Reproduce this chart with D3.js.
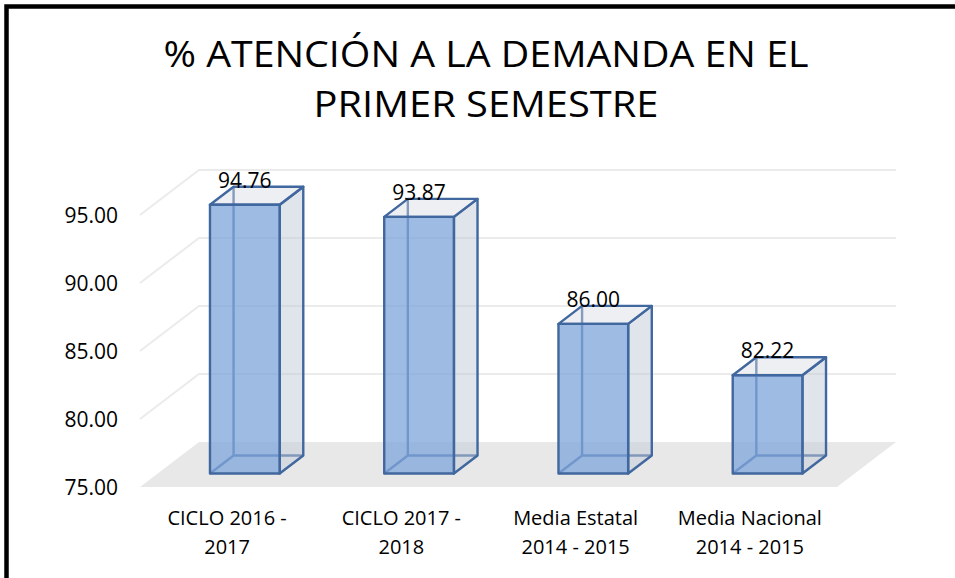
<!DOCTYPE html>
<html>
<head>
<meta charset="utf-8">
<script src="https://cdn.jsdelivr.net/npm/d3@7"></script>
<style>
  html, body { margin: 0; padding: 0; background: #fff; }
  svg { display: block; font-family: "Open Sans", sans-serif; }
</style>
</head>
<body>
<div id="chart"></div>
<script>
;(function () {
    "use strict";

    var titleLines = ["% ATENCIÓN A LA DEMANDA EN EL", "PRIMER SEMESTRE"];
    var categories = [
        ["CICLO 2016 -", "2017"],
        ["CICLO 2017 -", "2018"],
        ["Media Estatal", "2014 - 2015"],
        ["Media Nacional", "2014 - 2015"]
    ];
    var values = [94.76, 93.87, 86.00, 82.22];
    var yTicks = [75, 80, 85, 90, 95];

    var W = 955, H = 578;
    var floorLeft = 140, floorRight = 837, floorY = 487, topY = 215;
    var depth = {x: 59, y: -45};      // full floor depth, as a screen offset
    var barFront = 0.3, barBack = 0.7;  // bar sits in the middle of the depth

    var svg = d3.select("#chart").append("svg")
        .attr("width", W)
        .attr("height", H);

    var x = d3.scaleBand()
        .domain(d3.range(categories.length))
        .range([floorLeft, floorRight]);
    var y = d3.scaleLinear()
        .domain([yTicks[0], yTicks[yTicks.length - 1]])
        .range([floorY, topY]);

    // project a front-plane point back by fraction d of the depth
    function pt(px, v, d) {
        return [px + d * depth.x, y(v) + d * depth.y];
    }
    var line = d3.line();
    function poly(points) { return line(points) + "Z"; }

    // frame
    svg.append("rect")
        .attr("x", 6.5).attr("y", 6.5)
        .attr("width", W + 20).attr("height", H + 20)
        .attr("fill", "none")
        .attr("stroke", "#000")
        .attr("stroke-width", 4.5);

    // title
    var titleWidths = [645, 345];
    svg.selectAll("text.title")
        .data(titleLines)
        .enter().append("text")
        .attr("class", "title")
        .attr("x", 486)
        .attr("y", function (d, i) { return 67 + i * 50; })
        .attr("text-anchor", "middle")
        .attr("font-size", 37)
        .attr("fill", "#000")
        .attr("textLength", function (d, i) { return titleWidths[i]; })
        .attr("lengthAdjust", "spacingAndGlyphs")
        .text(function (d) { return d; });

    // floor
    var base = yTicks[0];
    svg.append("path")
        .attr("d", poly([pt(floorLeft, base, 0), pt(floorRight, base, 0), pt(floorRight, base, 1), pt(floorLeft, base, 1)]))
        .attr("fill", "#e8e8e8");

    // gridlines: left wall diagonal + back wall horizontal
    var grid = svg.append("g")
        .attr("fill", "none")
        .attr("stroke", "#ebebeb")
        .attr("stroke-width", 2);
    yTicks.slice(1).forEach(function (v) {
        grid.append("path")
            .attr("d", line([pt(floorLeft, v, 0), pt(floorLeft, v, 1), pt(floorRight, v, 1)]));
    });

    // y axis labels
    var yAxis = d3.axisLeft(y)
        .tickValues(yTicks)
        .tickFormat(d3.format(".2f"))
        .tickSize(0)
        .tickPadding(0);
    var gy = svg.append("g")
        .attr("transform", "translate(118,1)")
        .call(yAxis);
    gy.select(".domain").remove();
    gy.selectAll("text")
        .attr("font-family", "'Open Sans', sans-serif")
        .attr("font-size", 21)
        .attr("fill", "#000");

    // bars
    var bw = x.bandwidth() * 0.4;
    var stroke = "#41679f";
    var bars = svg.selectAll("g.bar")
        .data(values)
        .enter().append("g")
        .attr("class", "bar")
        .attr("stroke", stroke)
        .attr("stroke-width", 2.4)
        .attr("stroke-linejoin", "round");

    bars.each(function (v, i) {
        var g = d3.select(this);
        var x0 = x(i) + (x.bandwidth() - bw) / 2, x1 = x0 + bw;

        // hidden edges, seen through the faces
        g.append("path")
            .attr("fill", "none")
            .attr("d", line([pt(x0, base, barFront), pt(x0, base, barBack), pt(x1, base, barBack)]) +
                line([pt(x0, base, barBack), pt(x0, v, barBack)]).replace(/^M/, "M"));

        g.append("path")
            .attr("d", poly([pt(x1, base, barFront), pt(x1, base, barBack), pt(x1, v, barBack), pt(x1, v, barFront)]))
            .attr("fill", "#c2cad7")
            .attr("fill-opacity", 0.5);
        g.append("path")
            .attr("d", poly([pt(x0, v, barFront), pt(x1, v, barFront), pt(x1, v, barBack), pt(x0, v, barBack)]))
            .attr("fill", "#d6dbe5")
            .attr("fill-opacity", 0.45);
        g.append("path")
            .attr("d", poly([pt(x0, base, barFront), pt(x1, base, barFront), pt(x1, v, barFront), pt(x0, v, barFront)]))
            .attr("fill", "#7fa6da")
            .attr("fill-opacity", 0.76);
    });

    // data labels
    svg.selectAll("text.value")
        .data(values)
        .enter().append("text")
        .attr("class", "value")
        .attr("x", function (d, i) { return x(i) + x.bandwidth() / 2 + barFront * depth.x; })
        .attr("y", function (d) { return pt(0, d, barFront)[1] - 17; })
        .attr("text-anchor", "middle")
        .attr("font-size", 21)
        .attr("fill", "#000")
        .text(function (d) { return d3.format(".2f")(d); });

    // category labels
    var cats = svg.selectAll("text.cat")
        .data(categories)
        .enter().append("text")
        .attr("class", "cat")
        .attr("text-anchor", "middle")
        .attr("font-size", 20)
        .attr("fill", "#000");
    cats.selectAll("tspan")
        .data(function (d, i) { return d.map(function (s) { return {s: s, i: i}; }); })
        .enter().append("tspan")
        .attr("x", function (d) { return x(d.i) + x.bandwidth() / 2; })
        .attr("y", function (d, j) { return 525 + j * 29; })
        .text(function (d) { return d.s; });

}());
</script>
</body>
</html>
